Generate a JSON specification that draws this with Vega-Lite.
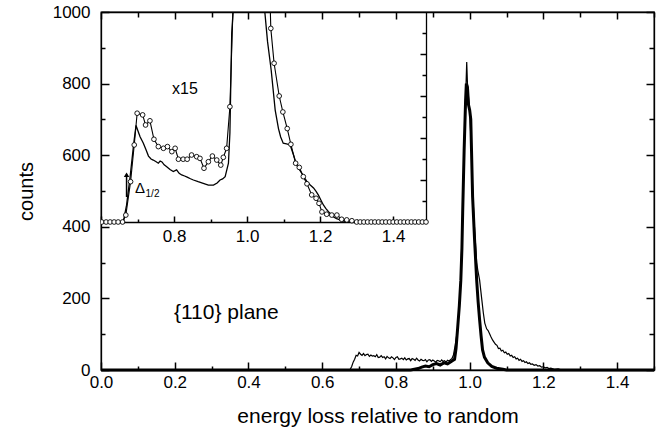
{
  "$schema": "https://vega.github.io/schema/vega-lite/v6.json",
  "width": 553,
  "height": 358,
  "autosize": "none",
  "padding": {"left": 101, "top": 12, "right": 5, "bottom": 68},
  "background": "white",
  "config": {
    "font": "Liberation Sans",
    "view": {"stroke": "black", "strokeWidth": 1.3},
    "axis": {
      "grid": false,
      "domainColor": "black",
      "domainWidth": 1.3,
      "tickColor": "black",
      "tickWidth": 1.5,
      "labelColor": "black",
      "labelFont": "Liberation Sans",
      "labelFontSize": 17,
      "labelFlush": false,
      "labelOverlap": false,
      "titleColor": "black",
      "titleFont": "Liberation Sans",
      "titleFontWeight": "normal",
      "titleFontSize": 20
    }
  },
  "datasets": {
    "mainThick": [
      {"x": 0, "y": 0}, {"x": 0.5, "y": 0}, {"x": 0.84, "y": 0}, {"x": 0.86, "y": 4}, {"x": 0.87, "y": 8},
      {"x": 0.88, "y": 11}, {"x": 0.89, "y": 9}, {"x": 0.9, "y": 15}, {"x": 0.91, "y": 18}, {"x": 0.92, "y": 14},
      {"x": 0.93, "y": 20}, {"x": 0.94, "y": 17}, {"x": 0.95, "y": 24}, {"x": 0.959, "y": 30}, {"x": 0.963, "y": 60},
      {"x": 0.967, "y": 112}, {"x": 0.972, "y": 180}, {"x": 0.976, "y": 251}, {"x": 0.979, "y": 340}, {"x": 0.981, "y": 438},
      {"x": 0.985, "y": 614}, {"x": 0.989, "y": 754}, {"x": 0.991, "y": 800}, {"x": 0.994, "y": 790}, {"x": 0.997, "y": 740},
      {"x": 1.0, "y": 726}, {"x": 1.003, "y": 700}, {"x": 1.005, "y": 614}, {"x": 1.008, "y": 483}, {"x": 1.013, "y": 370},
      {"x": 1.019, "y": 251}, {"x": 1.023, "y": 190}, {"x": 1.027, "y": 140}, {"x": 1.031, "y": 95}, {"x": 1.035, "y": 56},
      {"x": 1.04, "y": 36}, {"x": 1.049, "y": 20}, {"x": 1.06, "y": 10}, {"x": 1.073, "y": 5}, {"x": 1.09, "y": 2},
      {"x": 1.1, "y": 0}, {"x": 1.5, "y": 0}
    ],
    "mainThin": [
      {"x": 0, "y": 0}, {"x": 0.5, "y": 0}, {"x": 0.672, "y": 0}, {"x": 0.676, "y": 2}, {"x": 0.68, "y": 10},
      {"x": 0.684, "y": 22}, {"x": 0.688, "y": 30}, {"x": 0.692, "y": 41}, {"x": 0.696, "y": 39}, {"x": 0.7, "y": 49},
      {"x": 0.704, "y": 44}, {"x": 0.708, "y": 41}, {"x": 0.712, "y": 46}, {"x": 0.716, "y": 40}, {"x": 0.72, "y": 43},
      {"x": 0.724, "y": 44}, {"x": 0.728, "y": 38}, {"x": 0.732, "y": 42}, {"x": 0.736, "y": 39}, {"x": 0.74, "y": 40},
      {"x": 0.744, "y": 37}, {"x": 0.748, "y": 43}, {"x": 0.752, "y": 35}, {"x": 0.756, "y": 36}, {"x": 0.76, "y": 40},
      {"x": 0.764, "y": 35}, {"x": 0.768, "y": 37}, {"x": 0.772, "y": 31}, {"x": 0.776, "y": 38}, {"x": 0.78, "y": 34},
      {"x": 0.784, "y": 32}, {"x": 0.788, "y": 37}, {"x": 0.792, "y": 34}, {"x": 0.796, "y": 29}, {"x": 0.8, "y": 35},
      {"x": 0.804, "y": 37}, {"x": 0.808, "y": 30}, {"x": 0.812, "y": 31}, {"x": 0.816, "y": 33}, {"x": 0.82, "y": 29},
      {"x": 0.824, "y": 34}, {"x": 0.828, "y": 28}, {"x": 0.832, "y": 31}, {"x": 0.836, "y": 32}, {"x": 0.84, "y": 26},
      {"x": 0.844, "y": 32}, {"x": 0.848, "y": 30}, {"x": 0.852, "y": 27}, {"x": 0.856, "y": 33}, {"x": 0.86, "y": 28},
      {"x": 0.864, "y": 25}, {"x": 0.868, "y": 30}, {"x": 0.872, "y": 27}, {"x": 0.876, "y": 26}, {"x": 0.88, "y": 29},
      {"x": 0.884, "y": 23}, {"x": 0.888, "y": 28}, {"x": 0.892, "y": 29}, {"x": 0.896, "y": 24}, {"x": 0.9, "y": 28},
      {"x": 0.904, "y": 25}, {"x": 0.908, "y": 22}, {"x": 0.912, "y": 27}, {"x": 0.916, "y": 26}, {"x": 0.92, "y": 23},
      {"x": 0.924, "y": 28}, {"x": 0.928, "y": 24}, {"x": 0.932, "y": 26}, {"x": 0.936, "y": 22}, {"x": 0.94, "y": 27},
      {"x": 0.944, "y": 25}, {"x": 0.948, "y": 29}, {"x": 0.952, "y": 32}, {"x": 0.956, "y": 42}, {"x": 0.961, "y": 70},
      {"x": 0.967, "y": 112}, {"x": 0.972, "y": 180}, {"x": 0.976, "y": 251}, {"x": 0.981, "y": 438}, {"x": 0.985, "y": 614},
      {"x": 0.989, "y": 760}, {"x": 0.992, "y": 860}, {"x": 0.994, "y": 800}, {"x": 0.997, "y": 760}, {"x": 1.0, "y": 720},
      {"x": 1.005, "y": 614}, {"x": 1.008, "y": 500}, {"x": 1.013, "y": 400}, {"x": 1.019, "y": 300}, {"x": 1.022, "y": 279},
      {"x": 1.027, "y": 251}, {"x": 1.033, "y": 196}, {"x": 1.037, "y": 160}, {"x": 1.041, "y": 131}, {"x": 1.046, "y": 115},
      {"x": 1.05, "y": 110}, {"x": 1.054, "y": 101}, {"x": 1.058, "y": 92}, {"x": 1.062, "y": 84}, {"x": 1.066, "y": 78},
      {"x": 1.07, "y": 72}, {"x": 1.074, "y": 69}, {"x": 1.078, "y": 60}, {"x": 1.082, "y": 61}, {"x": 1.086, "y": 53},
      {"x": 1.09, "y": 55}, {"x": 1.094, "y": 48}, {"x": 1.098, "y": 50}, {"x": 1.102, "y": 44}, {"x": 1.106, "y": 46},
      {"x": 1.11, "y": 39}, {"x": 1.114, "y": 41}, {"x": 1.118, "y": 35}, {"x": 1.122, "y": 37}, {"x": 1.126, "y": 31},
      {"x": 1.13, "y": 33}, {"x": 1.134, "y": 27}, {"x": 1.138, "y": 30}, {"x": 1.142, "y": 24}, {"x": 1.146, "y": 26},
      {"x": 1.15, "y": 21}, {"x": 1.154, "y": 23}, {"x": 1.158, "y": 18}, {"x": 1.162, "y": 20}, {"x": 1.166, "y": 16},
      {"x": 1.17, "y": 17}, {"x": 1.175, "y": 13}, {"x": 1.18, "y": 15}, {"x": 1.185, "y": 11}, {"x": 1.19, "y": 12},
      {"x": 1.195, "y": 8}, {"x": 1.2, "y": 9}, {"x": 1.205, "y": 6}, {"x": 1.21, "y": 7}, {"x": 1.215, "y": 4},
      {"x": 1.22, "y": 5}, {"x": 1.23, "y": 2}, {"x": 1.24, "y": 3}, {"x": 1.25, "y": 0}, {"x": 1.5, "y": 0}
    ],
    "insetSolid": [
      {"x": 0.6, "y": 0}, {"x": 0.661, "y": 0}, {"x": 0.67, "y": 80}, {"x": 0.68, "y": 220}, {"x": 0.69, "y": 380},
      {"x": 0.696, "y": 460}, {"x": 0.702, "y": 430}, {"x": 0.707, "y": 406}, {"x": 0.716, "y": 375}, {"x": 0.723, "y": 345},
      {"x": 0.73, "y": 314}, {"x": 0.737, "y": 300}, {"x": 0.743, "y": 295}, {"x": 0.75, "y": 288}, {"x": 0.757, "y": 280},
      {"x": 0.762, "y": 290}, {"x": 0.767, "y": 286}, {"x": 0.773, "y": 272}, {"x": 0.78, "y": 263}, {"x": 0.789, "y": 250},
      {"x": 0.798, "y": 240}, {"x": 0.807, "y": 248}, {"x": 0.814, "y": 232}, {"x": 0.821, "y": 224}, {"x": 0.829, "y": 219},
      {"x": 0.836, "y": 214}, {"x": 0.845, "y": 206}, {"x": 0.853, "y": 200}, {"x": 0.866, "y": 192}, {"x": 0.88, "y": 184},
      {"x": 0.894, "y": 176}, {"x": 0.908, "y": 176}, {"x": 0.918, "y": 186}, {"x": 0.926, "y": 200}, {"x": 0.933, "y": 205},
      {"x": 0.94, "y": 216}, {"x": 0.949, "y": 280}, {"x": 0.953, "y": 424}, {"x": 0.958, "y": 900}, {"x": 0.962, "y": 1010},
      {"x": 1.0, "y": 5000}, {"x": 1.046, "y": 1050}, {"x": 1.056, "y": 860}, {"x": 1.066, "y": 724}, {"x": 1.077, "y": 533},
      {"x": 1.086, "y": 445}, {"x": 1.092, "y": 405}, {"x": 1.099, "y": 375}, {"x": 1.108, "y": 372}, {"x": 1.118, "y": 367},
      {"x": 1.127, "y": 320}, {"x": 1.136, "y": 271}, {"x": 1.143, "y": 250}, {"x": 1.15, "y": 232}, {"x": 1.157, "y": 212},
      {"x": 1.164, "y": 192}, {"x": 1.173, "y": 176}, {"x": 1.182, "y": 162}, {"x": 1.189, "y": 146}, {"x": 1.195, "y": 129},
      {"x": 1.202, "y": 105}, {"x": 1.209, "y": 81}, {"x": 1.216, "y": 64}, {"x": 1.223, "y": 49}, {"x": 1.23, "y": 36},
      {"x": 1.236, "y": 25}, {"x": 1.245, "y": 16}, {"x": 1.255, "y": 10}, {"x": 1.265, "y": 4}, {"x": 1.273, "y": 1},
      {"x": 1.28, "y": 0}, {"x": 1.49, "y": 0}
    ],
    "insetCirc": [
      {"x": 0.602, "y": 0}, {"x": 0.614, "y": 0}, {"x": 0.625, "y": 0}, {"x": 0.636, "y": 0}, {"x": 0.647, "y": 0},
      {"x": 0.659, "y": 0}, {"x": 0.668, "y": 33}, {"x": 0.681, "y": 192}, {"x": 0.691, "y": 367}, {"x": 0.699, "y": 518},
      {"x": 0.714, "y": 510}, {"x": 0.722, "y": 462}, {"x": 0.734, "y": 482}, {"x": 0.745, "y": 394}, {"x": 0.757, "y": 359},
      {"x": 0.771, "y": 351}, {"x": 0.782, "y": 359}, {"x": 0.794, "y": 335}, {"x": 0.803, "y": 351}, {"x": 0.812, "y": 299},
      {"x": 0.825, "y": 299}, {"x": 0.836, "y": 299}, {"x": 0.848, "y": 319}, {"x": 0.862, "y": 311}, {"x": 0.871, "y": 303},
      {"x": 0.882, "y": 256}, {"x": 0.894, "y": 287}, {"x": 0.905, "y": 314}, {"x": 0.917, "y": 295}, {"x": 0.928, "y": 271},
      {"x": 0.935, "y": 308}, {"x": 0.944, "y": 351}, {"x": 0.953, "y": 549}, {"x": 0.963, "y": 1100}, {"x": 1.0, "y": 5000},
      {"x": 1.065, "y": 922}, {"x": 1.074, "y": 756}, {"x": 1.088, "y": 600}, {"x": 1.098, "y": 524}, {"x": 1.11, "y": 445},
      {"x": 1.12, "y": 370}, {"x": 1.133, "y": 280}, {"x": 1.143, "y": 260}, {"x": 1.154, "y": 216}, {"x": 1.164, "y": 182},
      {"x": 1.177, "y": 129}, {"x": 1.189, "y": 113}, {"x": 1.197, "y": 89}, {"x": 1.205, "y": 48}, {"x": 1.218, "y": 37},
      {"x": 1.232, "y": 33}, {"x": 1.246, "y": 33}, {"x": 1.259, "y": 13}, {"x": 1.273, "y": 10}, {"x": 1.287, "y": 6},
      {"x": 1.3, "y": 0}, {"x": 1.31, "y": 0}, {"x": 1.32, "y": 0}, {"x": 1.33, "y": 0}, {"x": 1.34, "y": 0},
      {"x": 1.35, "y": 0}, {"x": 1.36, "y": 0}, {"x": 1.37, "y": 0}, {"x": 1.38, "y": 0}, {"x": 1.39, "y": 0},
      {"x": 1.4, "y": 0}, {"x": 1.41, "y": 0}, {"x": 1.42, "y": 0}, {"x": 1.43, "y": 0}, {"x": 1.44, "y": 0},
      {"x": 1.45, "y": 0}, {"x": 1.46, "y": 0}, {"x": 1.47, "y": 0}, {"x": 1.48, "y": 0}, {"x": 1.49, "y": 0}
    ],
    "annoMain": [{"x": 0.34, "y": 159, "label": "{110} plane"}],
    "annoX15": [{"x": 0.83, "y": 633, "label": "x15"}],
    "annoDelta": [{"x": 0.707, "y": 162, "label": "Δ"}],
    "annoSub": [{"x": 0.741, "y": 133, "label": "1/2"}],
    "arrow": [{"x": 0.67, "y": 119, "y2": 225}]
  },
  "resolve": {"scale": {"x": "independent", "y": "independent"}},
  "layer": [
    {
      "encoding": {
        "x": {
          "field": "x", "type": "quantitative",
          "scale": {"domain": [0, 1.5], "nice": false, "zero": false},
          "axis": {
            "orient": "bottom",
            "values": [0, 0.1, 0.2, 0.3, 0.4, 0.5, 0.6, 0.7, 0.8, 0.9, 1.0, 1.1, 1.2, 1.3, 1.4, 1.5],
            "labelExpr": "round(datum.value*10)%2==0 ? format(datum.value,'.1f') : ''",
            "tickSize": {"condition": {"test": "round(datum.value*10)%2==0", "value": -8}, "value": -4},
            "labelPadding": 12,
            "title": "energy loss relative to random",
            "titleFontSize": 21,
            "titlePadding": 11
          }
        },
        "y": {
          "field": "y", "type": "quantitative",
          "scale": {"domain": [0, 1000], "nice": false},
          "axis": {
            "orient": "left",
            "values": [0, 100, 200, 300, 400, 500, 600, 700, 800, 900, 1000],
            "labelExpr": "datum.value%200==0 ? format(datum.value,'d') : ''",
            "tickSize": {"condition": {"test": "datum.value%200==0", "value": -8}, "value": -4},
            "labelPadding": 19,
            "title": "counts",
            "titlePadding": 16
          }
        }
      },
      "layer": [
        {"data": {"name": "mainThick"}, "mark": {"type": "line", "color": "black", "strokeWidth": 3}},
        {"data": {"name": "annoMain"}, "mark": {"type": "text", "fontSize": 21, "align": "center", "baseline": "middle", "color": "black", "font": "Liberation Sans"}, "encoding": {"text": {"field": "label"}}}
      ]
    },
    {
      "data": {"name": "mainThin"},
      "mark": {"type": "line", "color": "black", "strokeWidth": 1.2},
      "encoding": {
        "x": {
          "field": "x", "type": "quantitative",
          "scale": {"domain": [0, 1.5], "nice": false, "zero": false},
          "axis": {
            "orient": "top",
            "values": [0, 0.1, 0.2, 0.3, 0.4, 0.5, 0.6, 0.7, 0.8, 0.9, 1.0, 1.1, 1.2, 1.3, 1.4, 1.5],
            "labels": false,
            "tickSize": {"condition": {"test": "round(datum.value*10)%2==0", "value": -7}, "value": -5},
            "title": null
          }
        },
        "y": {
          "field": "y", "type": "quantitative",
          "scale": {"domain": [0, 1000], "nice": false},
          "axis": {
            "orient": "right",
            "values": [0, 100, 200, 300, 400, 500, 600, 700, 800, 900, 1000],
            "labels": false,
            "tickSize": {"condition": {"test": "datum.value%200==0", "value": -8}, "value": -5},
            "title": null
          }
        }
      }
    },
    {
      "encoding": {
        "x": {
          "field": "x", "type": "quantitative",
          "scale": {"domain": [0.6, 1.49], "range": [0, 325], "nice": false, "zero": false},
          "axis": {
            "orient": "bottom",
            "offset": -148,
            "values": [0.6, 0.7, 0.8, 0.9, 1.0, 1.1, 1.2, 1.3, 1.4],
            "labelExpr": "(round(datum.value*10)%2==0 && datum.value > 0.7) ? format(datum.value,'.1f') : ''",
            "tickSize": {"condition": {"test": "round(datum.value*10)%2==0", "value": -6}, "value": -3},
            "labelPadding": 12,
            "title": null
          }
        },
        "y": {
          "field": "y", "type": "quantitative",
          "scale": {"domain": [0, 1000], "range": [210, 0], "nice": false, "zero": false},
          "axis": {
            "orient": "right",
            "offset": -228,
            "values": [100, 200, 300, 400, 500, 600, 700, 800, 900],
            "labels": false,
            "tickSize": {"condition": {"test": "datum.value%200==0", "value": -6}, "value": -4},
            "title": null
          }
        }
      },
      "layer": [
        {"data": {"name": "insetSolid"}, "mark": {"type": "line", "color": "black", "strokeWidth": 1.3, "clip": true}},
        {"data": {"name": "insetCirc"}, "mark": {"type": "line", "color": "black", "strokeWidth": 1.1, "clip": true}},
        {"data": {"name": "insetCirc"}, "mark": {"type": "point", "shape": "circle", "filled": false, "fill": "white", "stroke": "black", "strokeWidth": 0.9, "size": 22, "opacity": 1, "clip": true}},
        {"data": {"name": "arrow"}, "mark": {"type": "rule", "color": "black", "strokeWidth": 1.5}, "encoding": {"y2": {"field": "y2"}}},
        {"data": {"name": "arrow"}, "mark": {"type": "point", "shape": "triangle-up", "filled": true, "color": "black", "size": 30, "opacity": 1}, "encoding": {"y": {"field": "y2", "type": "quantitative"}}},
        {"data": {"name": "annoX15"}, "mark": {"type": "text", "fontSize": 16, "align": "center", "baseline": "middle", "color": "black", "font": "Liberation Sans"}, "encoding": {"text": {"field": "label"}}},
        {"data": {"name": "annoDelta"}, "mark": {"type": "text", "fontSize": 15, "align": "center", "baseline": "middle", "color": "black", "font": "Liberation Sans"}, "encoding": {"text": {"field": "label"}}},
        {"data": {"name": "annoSub"}, "mark": {"type": "text", "fontSize": 10, "align": "center", "baseline": "middle", "color": "black", "font": "Liberation Sans"}, "encoding": {"text": {"field": "label"}}}
      ]
    }
  ]
}
